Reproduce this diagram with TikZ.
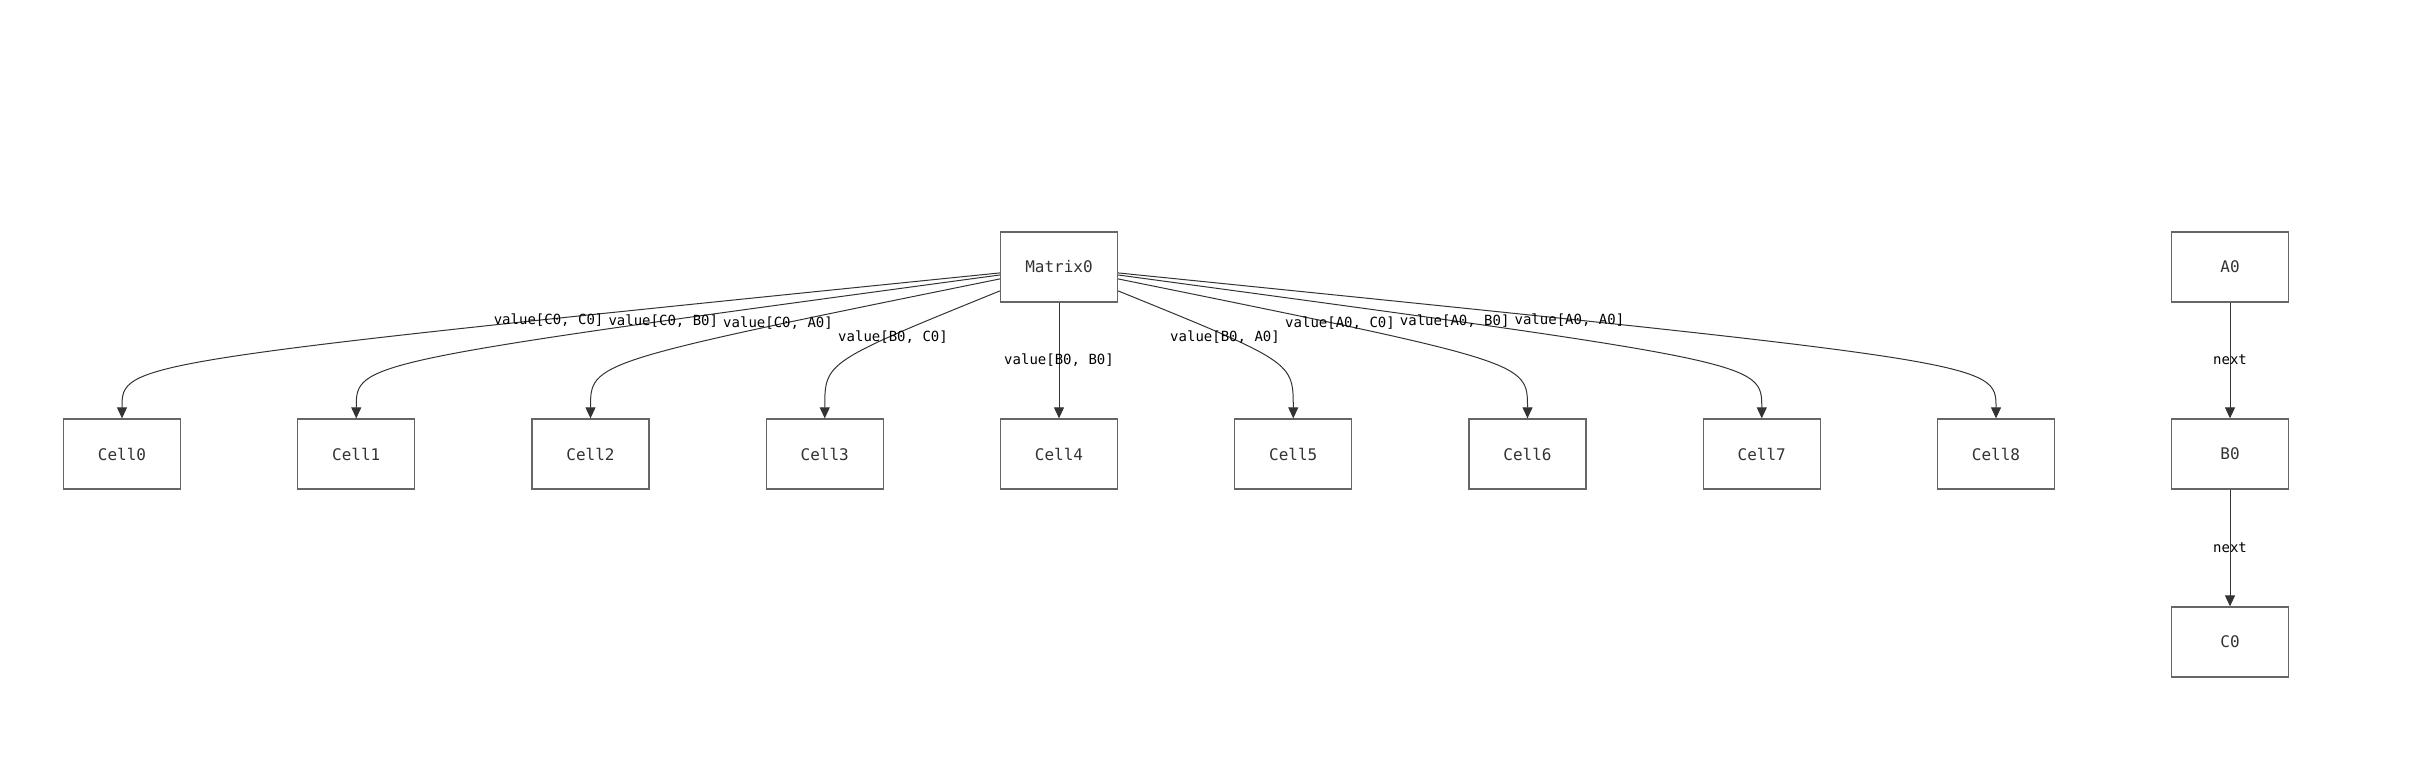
\documentclass[tikz,border=0pt]{standalone}
\usepackage{fontspec}
\setmonofont{DejaVu Sans Mono}
\usetikzlibrary{arrows.meta}
\definecolor{boxLine}{HTML}{666666}
\definecolor{inkDark}{HTML}{333333}

\begin{document}
\begin{tikzpicture}
[x=1pt,y=-1pt,%
  cellBox/.style={draw=boxLine,line width=1.3pt,fill=white,minimum width=117pt,%
    minimum height=70pt,inner sep=0pt,text=inkDark,font=\ttfamily\fontsize{16}{19}\selectfont},%
  edgeLabel/.style={inner sep=0pt,text=black,font=\ttfamily\fontsize{14}{17}\selectfont},%
  edgeArrow/.style={draw=inkDark,line width=1pt,-{Triangle[length=11pt,width=10pt]}}]
\useasboundingbox (0,0) rectangle (2430,782);
%% the matrix and its cells
\node (matrix) at (1059,267) [cellBox] {Matrix0};
\foreach \idx in {0,...,8}
{
  \node (cell\idx) at (122+234.25*\idx,454) [cellBox] {Cell\idx};
}
%% the linked list on the right
\node (a0) at (2230,267) [cellBox] {A0};
\node (b0) at (2230,454) [cellBox] {B0};
\node (c0) at (2230,642) [cellBox] {C0};
%% edges from the matrix to every cell
\foreach \idx in {0,...,8}
{
  \draw[edgeArrow] (matrix) .. controls (cell\idx.north |- 0,362) .. (cell\idx);
}
\draw[edgeArrow] (a0) -- (b0);
\draw[edgeArrow] (b0) -- (c0);
%% edge labels
\node (lblCC) at (548.6,320) [edgeLabel] {value[C0, C0]};
\node (lblCB) at (663.3,321) [edgeLabel] {value[C0, B0]};
\node (lblCA) at (778,323.3) [edgeLabel] {value[C0, A0]};
\node (lblBC) at (893,336.7) [edgeLabel] {value[B0, C0]};
\node (lblBB) at (1059,360) [edgeLabel] {value[B0, B0]};
\node (lblBA) at (1225,336.7) [edgeLabel] {value[B0, A0]};
\node (lblAC) at (1340,323.3) [edgeLabel] {value[A0, C0]};
\node (lblAB) at (1454.7,321) [edgeLabel] {value[A0, B0]};
\node (lblAA) at (1569.4,320) [edgeLabel] {value[A0, A0]};
\node (lblNextA) at (2230,360) [edgeLabel] {next};
\node (lblNextB) at (2230,548) [edgeLabel] {next};
\end{tikzpicture}
\end{document}
